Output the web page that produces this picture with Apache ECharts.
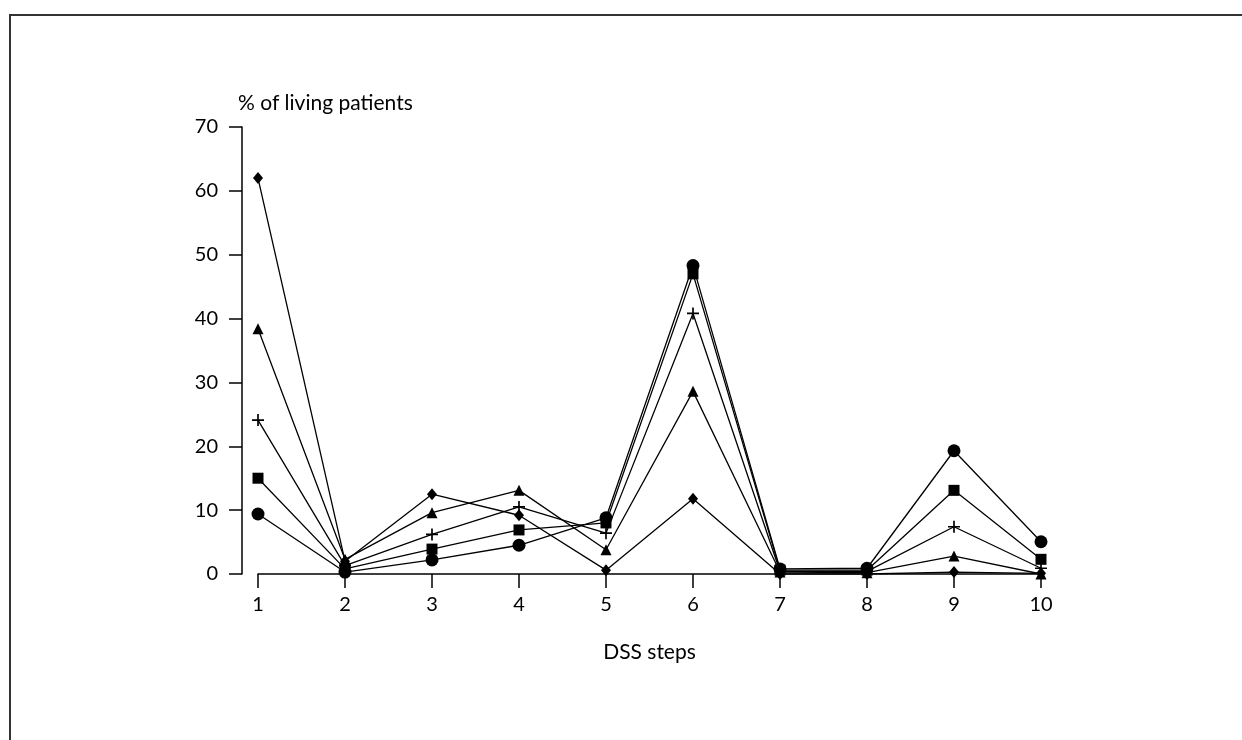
<!DOCTYPE html>
<html>
<head>
<meta charset="utf-8">
<script src="https://cdn.jsdelivr.net/npm/echarts@6/dist/echarts.min.js"></script>
<style>
html,body{margin:0;padding:0;background:#fff;}
#chart{width:1242px;height:740px;}
</style>
</head>
<body>
<div id="chart"></div>
<script>
const steps = [1, 2, 3, 4, 5, 6, 7, 8, 9, 10];
const diamondSeries = [62.0, 2.0, 12.5, 9.2, 0.6, 11.8, 0.0, 0.0, 0.3, 0.1];
const triangleSeries = [38.4, 2.3, 9.6, 13.1, 3.8, 28.6, 0.3, 0.2, 2.8, 0.0];
const plusSeries = [24.1, 1.3, 6.2, 10.5, 6.4, 40.8, 0.4, 0.4, 7.4, 0.9];
const squareSeries = [15.0, 0.8, 3.9, 6.9, 8.0, 47.0, 0.6, 0.6, 13.1, 2.3];
const circleSeries = [9.4, 0.3, 2.2, 4.5, 8.8, 48.3, 0.8, 0.9, 19.3, 5.05];
const yTicks = [0, 10, 20, 30, 40, 50, 60, 70];

const FONT = 'Lato';
const pair = arr => steps.map((s, i) => [s, arr[i]]);
const plusPath = 'path://M4.3,0h1.4v4.3h4.3v1.4h-4.3v4.3h-1.4v-4.3h-4.3v-1.4h4.3z';

function mk(name, data, symbol, size) {
  return {
    name, type: 'line', data: pair(data), symbol, symbolSize: size,
    lineStyle: { color: '#000', width: 1.3 },
    itemStyle: { color: '#000' },
    emphasis: { disabled: true },
    animation: false
  };
}

const chart = echarts.init(document.getElementById('chart'), null, { renderer: 'canvas' });
chart.setOption({
  backgroundColor: '#fff',
  animation: false,
  textStyle: { fontFamily: FONT },
  graphic: [{
    type: 'rect',
    shape: { x: 10, y: 15, width: 1400, height: 900 },
    style: { fill: 'none', stroke: '#333', lineWidth: 2 },
    silent: true
  }],
  grid: { left: 258, right: 201, top: 127, bottom: 166 },
  xAxis: {
    type: 'value', min: 1, max: 10, interval: 1,
    name: 'DSS steps', nameLocation: 'middle', nameGap: 68,
    nameTextStyle: { fontFamily: FONT, fontSize: 21, color: '#000' },
    axisLine: { lineStyle: { color: '#000', width: 1.5 } },
    axisTick: { show: true, length: 14, lineStyle: { color: '#000', width: 1.5 } },
    axisLabel: { color: '#000', fontSize: 20, fontFamily: FONT, margin: 21 },
    splitLine: { show: false }
  },
  yAxis: {
    type: 'value', min: 0, max: 70, interval: 10, offset: 16,
    name: '% of living patients', nameLocation: 'end', nameGap: 13,
    nameTextStyle: { fontFamily: FONT, fontSize: 21, color: '#000', align: 'left', padding: [0, 0, 0, -4] },
    axisLine: { show: true, lineStyle: { color: '#000', width: 1.5 } },
    axisTick: { show: true, length: 13, lineStyle: { color: '#000', width: 1.5 } },
    axisLabel: { color: '#000', fontSize: 20, fontFamily: FONT, margin: 24,
      formatter: v => yTicks.includes(v) ? String(v) : '' },
    splitLine: { show: false }
  },
  series: [
    mk('diamond', diamondSeries, 'diamond', [10, 12]),
    mk('triangle', triangleSeries, 'triangle', 11),
    mk('plus', plusSeries, plusPath, 12),
    mk('square', squareSeries, 'rect', 11),
    mk('circle', circleSeries, 'circle', 13)
  ]
});
</script>
</body>
</html>
